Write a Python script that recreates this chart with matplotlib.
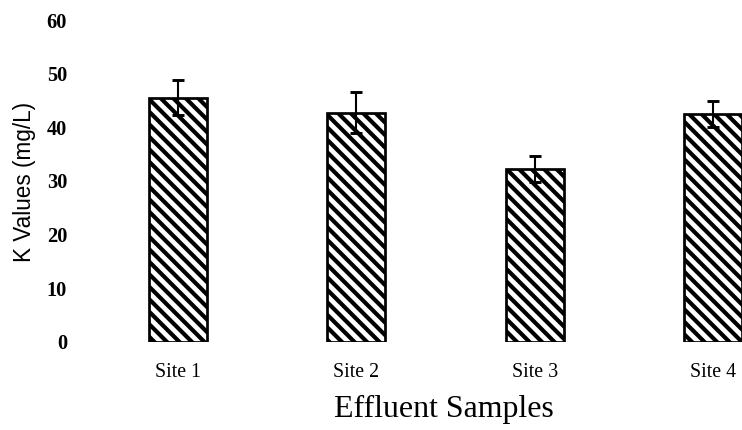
import numpy as np
import matplotlib
matplotlib.use("Agg")
import matplotlib.pyplot as plt

# Data
sites = ["Site 1", "Site 2", "Site 3", "Site 4"]
k_values = [45.5, 42.7, 32.2, 42.4]
k_errors = [3.3, 3.8, 2.4, 2.4]
y_ticks = [0, 10, 20, 30, 40, 50, 60]

DPI = 150
plt.rcParams["hatch.linewidth"] = 2.0
plt.rcParams["hatch.color"] = "black"

fig = plt.figure(figsize=(742 / DPI, 430 / DPI), dpi=DPI)
# axes spans pixel x 90..742, y 20..342 (from top)
ax = fig.add_axes([90 / 742, 1 - 341.7 / 430, 652 / 742, 321.7 / 430])

x = np.arange(len(sites))
ax.bar(x, k_values, width=0.325, color="white", edgecolor="black",
       linewidth=1.3, hatch="\\\\\\\\", zorder=2)
ax.errorbar(x, k_values, yerr=k_errors, fmt="none", ecolor="black",
            elinewidth=1.0, capsize=2.8, capthick=1.4, zorder=3)

ax.set_xlim((90 - 178) / 178.3, (742 - 178) / 178.3)
ax.set_ylim(0, 60)
ax.set_yticks(y_ticks)
ax.set_xticks(x)
ax.set_xticklabels(sites, family="Liberation Serif", fontsize=9.6)
ax.set_yticklabels([str(v) for v in y_ticks], family="Liberation Serif",
                   fontsize=9.8, fontweight="bold")
ax.tick_params(axis="both", length=0)
ax.tick_params(axis="y", pad=11)
ax.tick_params(axis="x", pad=10)

for s in ax.spines.values():
    s.set_visible(False)

ax.set_ylabel("K Values (mg/L)", family="Liberation Sans", fontsize=10.8)
ax.yaxis.set_label_coords(-0.101, 0.496)
ax.yaxis.label.set_va("center")
ax.set_xlabel("Effluent Samples", family="Liberation Serif", fontsize=15.3)
ax.xaxis.set_label_coords(0.543, -0.212)
ax.xaxis.label.set_va("center")

fig.savefig("out.png", dpi=DPI)
